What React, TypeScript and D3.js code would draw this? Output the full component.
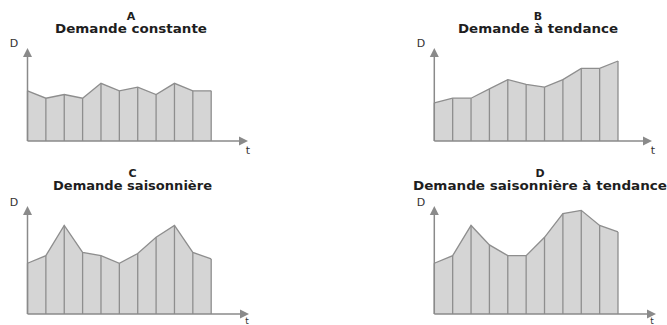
import React from "react";
import * as d3 from "d3";

const periods = [1, 2, 3, 4, 5, 6, 7, 8, 9, 10, 11];
const demandeConstante = [54, 46, 50, 46, 62, 54, 58, 50, 62, 54, 54];
const demandeTendance = [41, 46, 46, 56, 66, 61, 58, 66, 78, 78, 86];
const demandeSaisonniere = [47, 54, 82, 57, 54, 47, 56, 71, 82, 57, 51];
const demandeSaisonniereTendance = [47, 54, 82, 64, 54, 54, 71, 93, 96, 82, 76];
const panelLetters = ["A", "B", "C", "D"];
const panelTitles = [
  "Demande constante",
  "Demande à tendance",
  "Demande saisonnière",
  "Demande saisonnière à tendance",
];
const seriesList = [demandeConstante, demandeTendance, demandeSaisonniere, demandeSaisonniereTendance];
const yAxisLabel = "D";
const xAxisLabel = "t";

const layouts = [
  { x0: 27.5, x1: 248, yTop: 48, yBase: 141, cx: 131, ty1: 20, ty2: 33, tw: 152, dx: 14, dy: 47, tx: 248, tyy: 154, tfs: 11 },
  { x0: 434.3, x1: 652, yTop: 48, yBase: 141, cx: 538, ty1: 20, ty2: 33, tw: 160, dx: 421, dy: 47, tx: 653, tyy: 154, tfs: 11 },
  { x0: 27.5, x1: 249, yTop: 206, yBase: 314, cx: 132.5, ty1: 177, ty2: 190, tw: 159, dx: 14, dy: 206, tx: 247, tyy: 324, tfs: 9 },
  { x0: 434.3, x1: 656, yTop: 206, yBase: 314, cx: 540, ty1: 177, ty2: 190, tw: 254, dx: 421, dy: 206, tx: 652, tyy: 324, tfs: 9 },
];

const FILL = "#d5d5d5";
const STROKE = "#8e8e8e";
const AXIS = "#8a8a8a";
const TEXT = "#1e1e1e";

function Panel({ idx }: { idx: number }) {
  const L = layouts[idx];
  const values = seriesList[idx];
  const x = d3.scaleLinear().domain([1, 13]).range([L.x0, L.x0 + 12 * 18.37]);
  const y = d3.scaleLinear().domain([0, 100]).range([L.yBase, L.yTop]);
  const data = periods.map((p, i) => ({ p, v: values[i] }));
  const area = d3
    .area<{ p: number; v: number }>()
    .x((d) => x(d.p))
    .y0(y(0))
    .y1((d) => y(d.v));
  const line = d3
    .line<{ p: number; v: number }>()
    .x((d) => x(d.p))
    .y((d) => y(d.v));
  const ah = 9;
  const aw = 4.5;
  return (
    <g>
      <text x={L.cx} y={L.ty1} textAnchor="middle" fontFamily="DejaVu Sans" fontWeight="bold" fontSize={11} fill={TEXT}>
        {panelLetters[idx]}
      </text>
      <text
        x={L.cx}
        y={L.ty2}
        textAnchor="middle"
        fontFamily="DejaVu Sans"
        fontWeight="bold"
        fontSize={11.5}
        fill={TEXT}
        textLength={L.tw}
        lengthAdjust="spacingAndGlyphs"
      >
        {panelTitles[idx]}
      </text>
      <path d={area(data) || ""} fill={FILL} stroke="none" />
      <path d={line(data) || ""} fill="none" stroke={STROKE} strokeWidth={1.3} />
      {data.map((d) => (
        <line key={d.p} x1={x(d.p)} x2={x(d.p)} y1={y(0)} y2={y(d.v)} stroke={STROKE} strokeWidth={1.3} />
      ))}
      <line x1={L.x0} x2={L.x0} y1={L.yBase} y2={L.yTop + ah - 1} stroke={AXIS} strokeWidth={1.5} />
      <path d={`M${L.x0},${L.yTop} L${L.x0 - aw},${L.yTop + ah} L${L.x0 + aw},${L.yTop + ah} Z`} fill={AXIS} />
      <line x1={L.x0} x2={L.x1 - ah + 1} y1={L.yBase} y2={L.yBase} stroke={AXIS} strokeWidth={1.5} />
      <path d={`M${L.x1},${L.yBase} L${L.x1 - ah},${L.yBase - aw} L${L.x1 - ah},${L.yBase + aw} Z`} fill={AXIS} />
      <text x={L.dx} y={L.dy} textAnchor="middle" fontFamily="DejaVu Sans" fontSize={11} fill="#333">
        {yAxisLabel}
      </text>
      <text x={L.tx} y={L.tyy} textAnchor="middle" fontFamily="DejaVu Sans" fontSize={L.tfs} fill="#333">
        {xAxisLabel}
      </text>
    </g>
  );
}

export default function App() {
  return (
    <svg
      width={667}
      height={325}
      style={{ position: "absolute", left: 0, top: 0, background: "#fff" }}
    >
      <rect width={667} height={325} fill="#fff" />
      {[0, 1, 2, 3].map((i) => (
        <Panel key={i} idx={i} />
      ))}
    </svg>
  );
}
